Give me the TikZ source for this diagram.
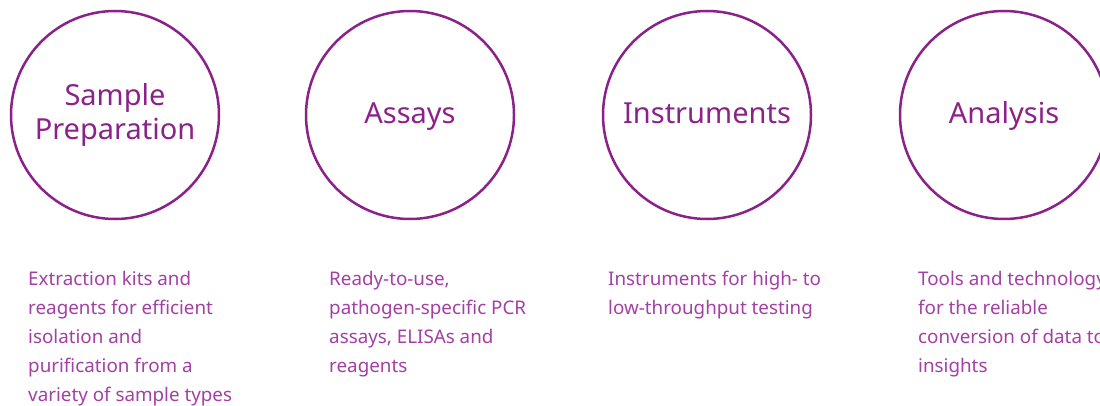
\documentclass[tikz,border=0pt]{standalone}
\usepackage{fontspec}
\setmainfont{Noto Sans}
\definecolor{ring}{HTML}{8B2289}
\definecolor{desc}{HTML}{A43FA4}
\begin{document}
\begin{tikzpicture}[x=1pt,y=-1pt,
  ringstyle/.style={draw=ring,line width=2.5pt,circle,minimum size=208pt,inner sep=0pt},
  titlestyle/.style={text=ring,font=\fontsize{29}{34}\selectfont,inner sep=0pt,anchor=base},
  descstyle/.style={text=desc,font=\fontsize{18.8}{29.2}\selectfont,inner sep=0pt,align=left,anchor=base west}]
\useasboundingbox (0,0) rectangle (1100,406);
\fill[white] (0,0) rectangle (1100,406);
\node[ringstyle] (c1) at (115,115) {};
\node[ringstyle] (c2) at (410,115) {};
\node[ringstyle] (c3) at (707,115) {};
\node[ringstyle] (c4) at (1004,115) {};
\node[titlestyle] (t1a) at (115,106) {Sample};
\node[titlestyle] (t1b) at (115,140) {Preparation};
\node[titlestyle] (t2) at (410,124) {Assays};
\node[titlestyle] (t3) at (707,124) {Instruments};
\node[titlestyle] (t4) at (1004,124) {Analysis};
% base anchor = baseline of the last line; first baseline at 285, pitch 29.2
\node[descstyle] (d1) at (28,401.8) {Extraction kits and\\reagents for efficient\\isolation and\\purification from a\\variety of sample types};
\node[descstyle] (d2) at (329,372.6) {Ready-to-use,\\pathogen-specific PCR\\assays, ELISAs and\\reagents};
\node[descstyle] (d3) at (608,314.2) {Instruments for high- to\\low-throughput testing};
\node[descstyle] (d4) at (918,372.6) {Tools and technology\\for the reliable\\conversion of data to\\insights};
\end{tikzpicture}
\end{document}
